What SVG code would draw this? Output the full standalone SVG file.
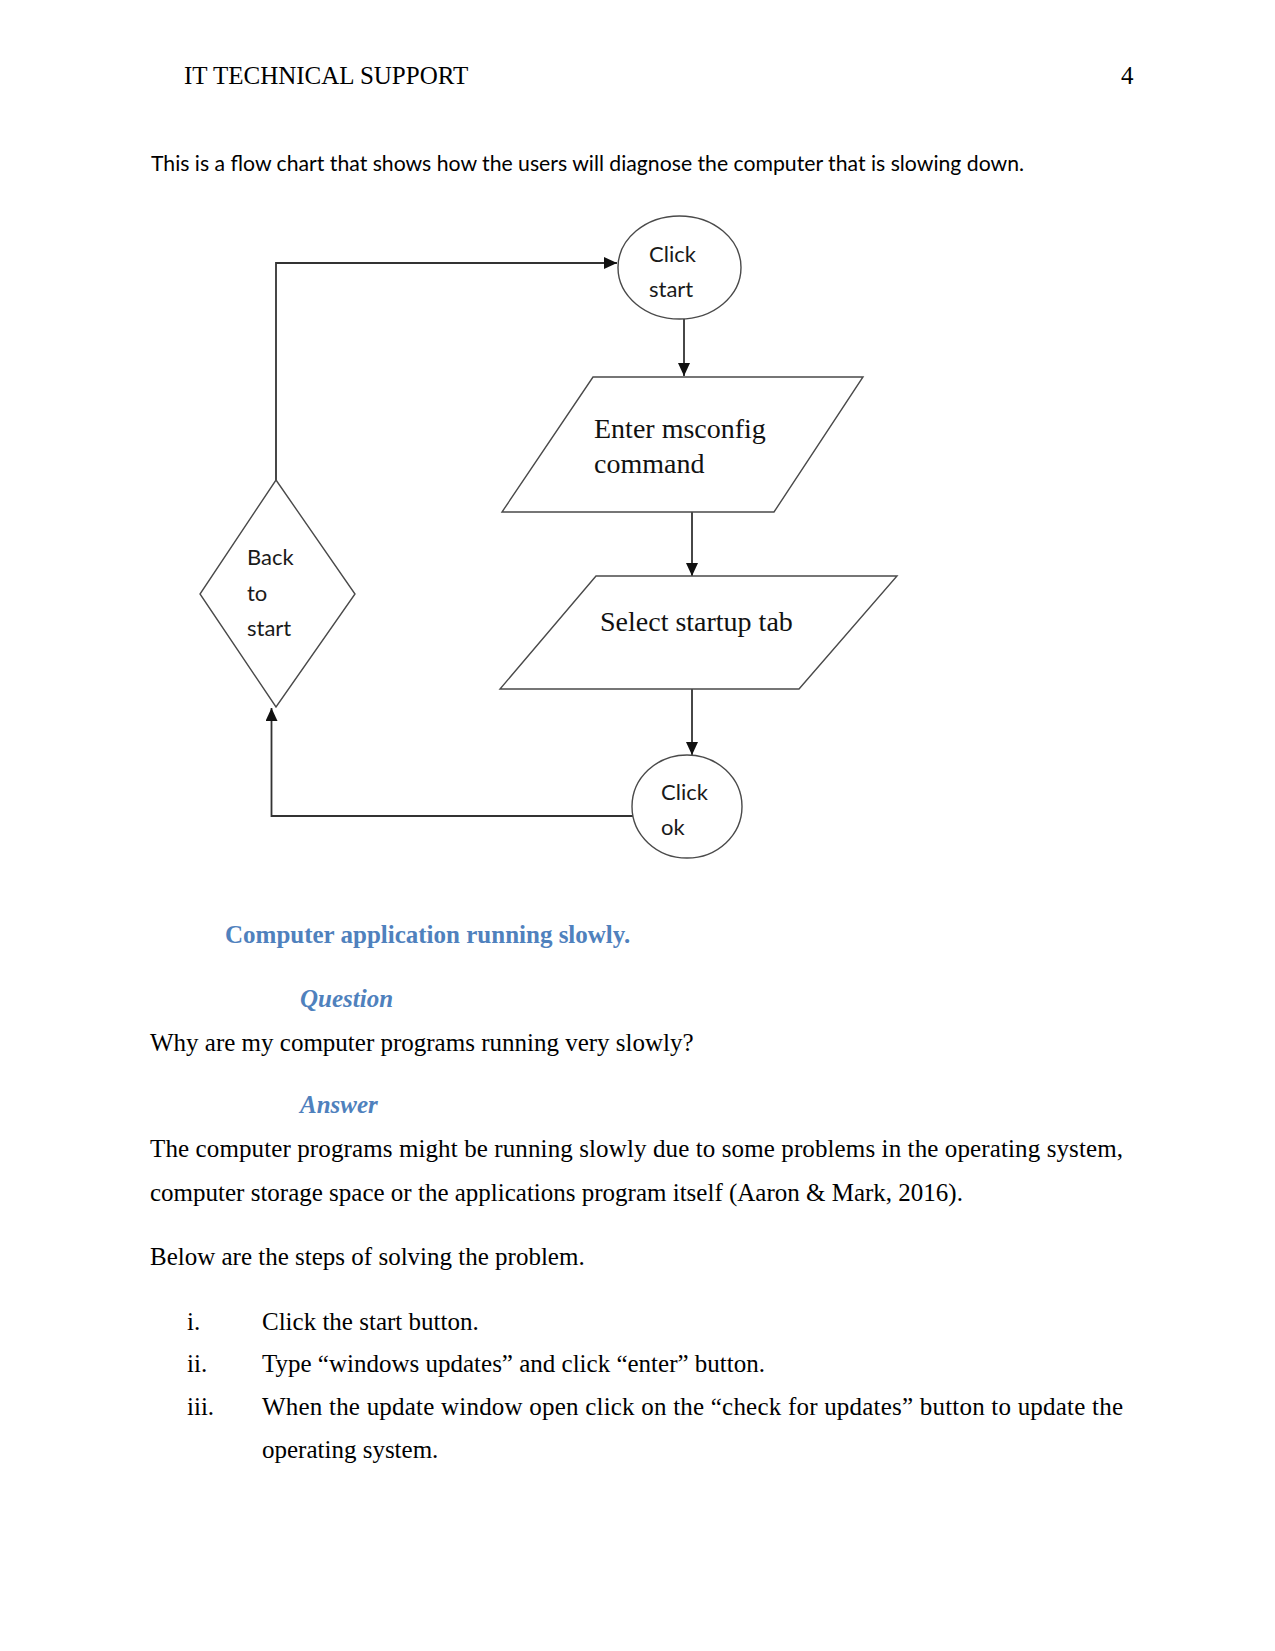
<svg xmlns="http://www.w3.org/2000/svg" width="1275" height="1651" viewBox="0 0 1275 1651">
<style>
.serif{font-family:"Liberation Serif","Times New Roman",serif;font-size:25px;fill:#000}
.head{font-family:"Liberation Serif","Times New Roman",serif;font-size:25px;fill:#4F81BD}
.sans{font-family:Lato,"Open Sans",sans-serif;font-size:22px;fill:#000}
.label{font-family:Lato,"Open Sans",sans-serif;font-size:22px;fill:#1a1a1a}
.slabel{font-family:"Liberation Serif","Times New Roman",serif;font-size:28px;fill:#111}
.shape{fill:#fff;stroke:#4a4a4a;stroke-width:1.4}
.conn{fill:none;stroke:#333;stroke-width:1.8}
</style>
<defs>
<marker id="arr" viewBox="0 0 13 12" refX="13" refY="6" markerWidth="13" markerHeight="12" markerUnits="userSpaceOnUse" orient="auto">
<path d="M0,0 L13,6 L0,12 z" fill="#111"/>
</marker>
</defs>
<rect width="1275" height="1651" fill="#fff"/>

<text class="serif" x="184" y="84">IT TECHNICAL SUPPORT</text>
<text class="serif" x="1121" y="84">4</text>
<text class="sans" x="151" y="171" textLength="873" lengthAdjust="spacingAndGlyphs">This is a flow chart that shows how the users will diagnose the computer that is slowing down.</text>

<g id="connectors">
<path class="conn" d="M276,480 L276,263 L617,263" marker-end="url(#arr)"/>
<path class="conn" d="M684,319 L684,376" marker-end="url(#arr)"/>
<path class="conn" d="M692,512 L692,576" marker-end="url(#arr)"/>
<path class="conn" d="M692,689 L692,755" marker-end="url(#arr)"/>
<path class="conn" d="M633,816 L271.5,816 L271.5,708" marker-end="url(#arr)"/>
</g>

<g id="node-click-start">
<ellipse class="shape" cx="679.5" cy="267.5" rx="61.5" ry="51.5"/>
<text class="label" x="649" y="262">Click</text>
<text class="label" x="649" y="297">start</text>
</g>

<g id="node-enter-msconfig">
<polygon class="shape" points="593,377 863,377 774,512 502,512"/>
<text class="slabel" x="594" y="438">Enter msconfig</text>
<text class="slabel" x="594" y="473">command</text>
</g>

<g id="node-select-startup">
<polygon class="shape" points="596,576 897,576 799,689 500,689"/>
<text class="slabel" x="600" y="631">Select startup tab</text>
</g>

<g id="node-click-ok">
<ellipse class="shape" cx="687" cy="806.5" rx="55" ry="51.5"/>
<text class="label" x="661" y="800">Click</text>
<text class="label" x="661" y="835">ok</text>
</g>

<g id="node-back-to-start">
<polygon class="shape" points="276,480 355,594 276,707 200,594"/>
<text class="label" x="247" y="565">Back</text>
<text class="label" x="247" y="601">to</text>
<text class="label" x="247" y="636">start</text>
</g>

<text class="head" x="225" y="943" font-weight="bold">Computer application running slowly.</text>
<text class="head" x="300" y="1007" font-weight="bold" font-style="italic">Question</text>
<text class="serif" x="150" y="1051">Why are my computer programs running very slowly?</text>
<text class="head" x="300" y="1113" font-weight="bold" font-style="italic">Answer</text>
<text class="serif" x="150" y="1157" textLength="973" lengthAdjust="spacing">The computer programs might be running slowly due to some problems in the operating system,</text>
<text class="serif" x="150" y="1201">computer storage space or the applications program itself (Aaron &amp; Mark, 2016).</text>
<text class="serif" x="150" y="1265">Below are the steps of solving the problem.</text>
<text class="serif" x="187" y="1330">i.</text>
<text class="serif" x="262" y="1330">Click the start button.</text>
<text class="serif" x="187" y="1372">ii.</text>
<text class="serif" x="262" y="1372">Type “windows updates” and click “enter” button.</text>
<text class="serif" x="187" y="1415">iii.</text>
<text class="serif" x="262" y="1415" textLength="861" lengthAdjust="spacing">When the update window open click on the “check for updates” button to update the</text>
<text class="serif" x="262" y="1458">operating system.</text>
</svg>
